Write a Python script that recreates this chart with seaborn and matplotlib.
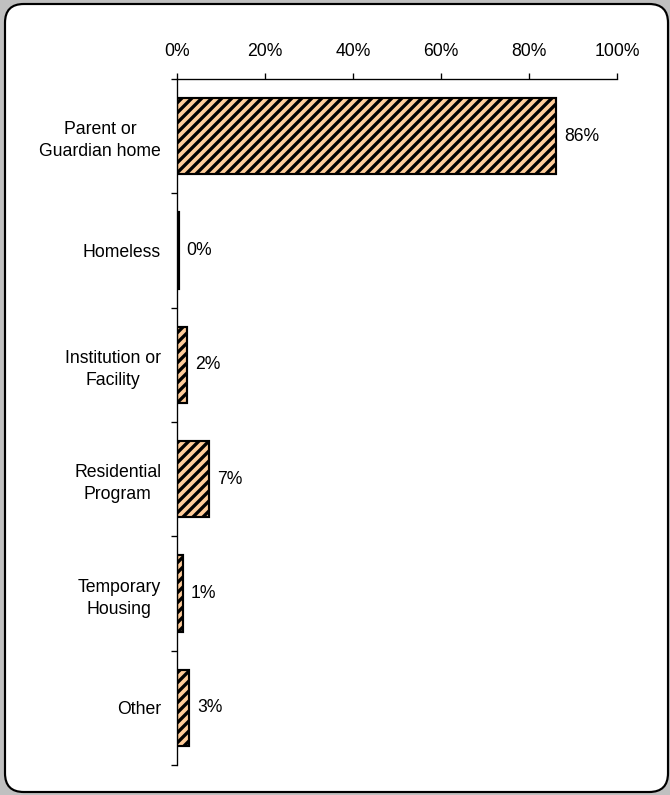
import numpy as np
import pandas as pd
import matplotlib
matplotlib.use('Agg')
import matplotlib.pyplot as plt
import seaborn as sns
from matplotlib.patches import FancyBboxPatch

# data
categories = ['Parent or\nGuardian home', 'Homeless', 'Institution or\nFacility',
              'Residential\nProgram', 'Temporary\nHousing', 'Other']
shares = [86.1, 0.4, 2.3, 7.3, 1.4, 2.8]
xticks = [0, 20, 40, 60, 80, 100]

df = pd.DataFrame({'category': categories, 'share': shares})

sns.set_style('white')
plt.rcParams['font.family'] = ['Liberation Sans', 'DejaVu Sans']
plt.rcParams['hatch.linewidth'] = 2.0
plt.rcParams['text.color'] = 'black'
plt.rcParams['xtick.color'] = 'black'
plt.rcParams['ytick.color'] = 'black'

dpi = 120
fs = 10.6
fig = plt.figure(figsize=(670 / dpi, 795 / dpi), dpi=dpi, facecolor='#c0c0c0')

# rounded white frame
frame = FancyBboxPatch((5 / 670, 3 / 795), 663 / 670, 788 / 795,
                       boxstyle='round,pad=0,rounding_size=0.028',
                       transform=fig.transFigure, facecolor='white',
                       edgecolor='black', linewidth=1.3, zorder=-5,
                       mutation_aspect=670 / 795)
fig.patches.append(frame)

ax = fig.add_axes([177 / 670, 1 - 765 / 795, 440 / 670, 686 / 795])
ax.set_facecolor('none')
ax.set_zorder(2)

sns.barplot(data=df, x='share', y='category', orient='h', color='#ffcc99',
            saturation=1, width=0.67, edgecolor='black', linewidth=1.3, ax=ax)
for p in ax.patches:
    p.set_hatch('////')

for i, v in enumerate(shares):
    ax.text(v + 1.8, i, f'{v:.0f}%', va='center', ha='left', fontsize=fs)

ax.set_xlim(0, 100)
ax.set_ylim(5.5, -0.5)
ax.xaxis.tick_top()
ax.set_xticks(xticks)
ax.set_xticklabels([f'{t}%' for t in xticks], fontsize=fs)
ax.set_yticks(range(len(categories)))
ax.set_yticklabels(categories, fontsize=fs, linespacing=1.4, ha='right',
                   multialignment='center')
ax.set_yticks(np.arange(-0.5, len(categories), 1), minor=True)
ax.tick_params(axis='y', which='major', length=0, pad=9.6)
ax.tick_params(axis='y', which='minor', length=3.6, width=0.8, left=True)
ax.tick_params(axis='x', length=3.6, width=0.8, pad=8, top=True)
ax.set_xlabel('')
ax.set_ylabel('')

for s in ['right', 'bottom']:
    ax.spines[s].set_visible(False)
for s in ['top', 'left']:
    ax.spines[s].set_color('black')
    ax.spines[s].set_linewidth(0.8)

fig.savefig('out.png', dpi=dpi, facecolor=fig.get_facecolor())
